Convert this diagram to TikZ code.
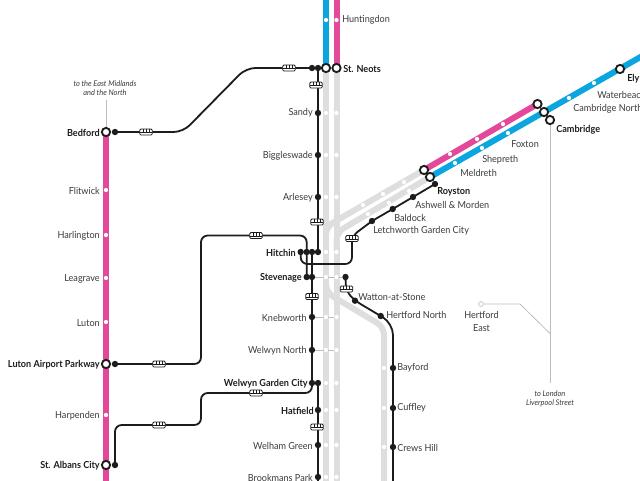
\documentclass[tikz,border=0pt]{standalone}
\usepackage{fontspec}
\setmainfont[FakeStretch=0.94]{Lato}
\usetikzlibrary{calc}
\pgfdeclarelayer{bg}
\pgfsetlayers{bg,main}
\definecolor{trackgrey}{HTML}{DEDEDE}
\definecolor{thingrey}{HTML}{BDBDBD}
\definecolor{railpink}{HTML}{E4489A}
\definecolor{railcyan}{HTML}{0BA6DF}
\definecolor{inkblk}{HTML}{1C1C1C}
\definecolor{txtgrey}{HTML}{3A3A3A}
\tikzset{
  x=0.75pt,y=-0.75pt,
  track/.style={line width=4.5pt,line cap=butt,rounded corners=6pt},
  greytrack/.style={track,color=trackgrey},
  pinktrack/.style={track,color=railpink},
  cyantrack/.style={track,color=railcyan},
  thin line/.style={line width=0.6pt,color=thingrey},
  busline/.style={line width=1.35pt,color=inkblk,rounded corners=5pt},
  blk/.style={circle,fill=inkblk,inner sep=0pt,minimum size=4.8pt},
  wht/.style={circle,fill=white,inner sep=0pt,minimum size=3.2pt},
  ring/.style={circle,draw=inkblk,fill=white,line width=1.4pt,inner sep=0pt,minimum size=6.2pt},
  hring/.style={circle,draw=thingrey,fill=white,line width=0.5pt,inner sep=0pt,minimum size=3.6pt},
  lbl/.style={inner sep=0pt,yshift=-0.5pt,font=\fontsize{7.25pt}{9.6pt}\selectfont,text=txtgrey},
  lblb/.style={lbl,font=\bfseries\fontsize{7.25pt}{8.6pt}\selectfont,text=inkblk},
  note/.style={inner sep=0pt,align=center,font=\itshape\fontsize{5.9pt}{6.9pt}\selectfont,text=txtgrey},
  bus/.style={rectangle,rounded corners=1pt,draw=inkblk,fill=white,line width=0.6pt,inner sep=0pt,
    minimum width=9.5pt,minimum height=4.6pt,
    path picture={\draw[line width=0.35pt,inkblk]
      ($(path picture bounding box.west)+(0,-0.4pt)$)--($(path picture bounding box.east)+(0,-0.4pt)$)
      ($(path picture bounding box.north)+(-2.4pt,0)$)--($(path picture bounding box.center)+(-2.4pt,-0.4pt)$)
      (path picture bounding box.north)--($(path picture bounding box.center)+(0,-0.4pt)$)
      ($(path picture bounding box.north)+(2.4pt,0)$)--($(path picture bounding box.center)+(2.4pt,-0.4pt)$);}},
}
\begin{document}
\begin{tikzpicture}
\useasboundingbox (0,0) rectangle (640,480);
% free ends and bends
\coordinate (tc) at (326,-2);
\coordinate (tp) at (336.5,-2);
\coordinate (gl) at (326,482);
\coordinate (gr) at (336.5,482);
\coordinate (pb) at (106,482);
\coordinate (cend) at (644,55);
\coordinate (b1a) at (326,245);
\coordinate (b1b) at (326,226.6);
\coordinate (b2a) at (336.5,250);
\coordinate (b2b) at (336.5,232.5);
\coordinate (b3a) at (326,282);
\coordinate (b3b) at (326,292.4);
\coordinate (b3c) at (384,327);
\coordinate (b3d) at (384,482);
\coordinate (blk1) at (318,482);
\coordinate (blk2) at (393,482);
% left line
\node[ring] (bedford) at (106,132) {};
\node[ring] (lap) at (106,364) {};
\node[ring] (stalbans) at (106,465) {};
\foreach \n/\y in {flit/190,harl/235,leag/278,lutn/322,harp/415}
  \node[wht] (\n) at (106,\y) {};
% top pair
\node[ring] (neotsa) at (326,68) {};
\node[ring] (neotsb) at (336.5,68) {};
\node[wht] (hunta) at (326,20) {};
\node[wht] (huntb) at (336.5,20) {};
% white dots on the grey pair
\foreach \n/\y in {a/113,b/155,c/197,d/252,e/277,f/317,g/350,h/383,i/410,j/445,k/477}{
  \node[wht] (wl\n) at (326,\y) {};
  \node[wht] (wr\n) at (336.5,\y) {};
}
% diagonal rings and dots
\node[ring] (ra) at (424,170) {};
\node[ring] (rb) at (430,177) {};
\node[ring] (ca) at (537.5,104) {};
\node[ring] (cb) at (544,112) {};
\node[ring] (cambridge) at (550,120) {};
\node[ring] (ely) at (620,69) {};
\foreach \n/\x/\y in {g1/404/182,g2/383/194,g3/363/205,h1/409/191,h2/389/203,h3/368/214,
   p1/503/124,p2/477/139,p3/450/154,c1/508/133,c2/482/148,c3/455/163,c4/569/98,c5/594/83}
  \node[wht] (\n) at (\x,\y) {};
% branch dots
\foreach \n/\y in {bay/368,cuf/408,cre/447}
  \node[wht] (w\n) at (384,\y) {};
% black stations
\foreach \n/\x/\y in {dbed/115/132,dlap/115/364,dsta/115/465,
   n1/312/68,n2/318/68,sandy/318/113,biggs/318/155,arl/318/197,
   hi1/300.7/252,hi2/306.7/252,hi3/312/252,hi4/318/252,
   st1/306.7/277,st2/312/277,kneb/312/317,welN/312/350,wgc1/312/383,wgc2/318/383,
   hatf/318/410,welh/318/445,brook/318/477,
   watt/355/300.7,hn/380.7/316,wx/345.5/277,
   bayf/393/368,cuff/393/408,crew/393/447,
   letch/372/221,bald/392.7/209,ash/413/197,roy/435/184}
  \node[blk] (\n) at (\x,\y) {};
% bus icons
\foreach \n/\x/\y in {bu1/146/132,bu2/289/68,bu3/316/85,bu4/317/222,bu5/256/235.5,bu6/159/364,
   bu7/312/296.5,bu8/256/393,bu9/159/425,bu10/317/427,bu11/352/238.5,bu12/346.5/289}
  \node[bus] (\n) at (\x,\y) {};
\begin{pgfonlayer}{bg}
 \draw[greytrack] (neotsa.center)--(gl);
 \draw[greytrack] (neotsb.center)--(gr);
 \draw[greytrack] (b1a)--(b1b)--(ra.center);
 \draw[greytrack] (b2a)--(b2b)--(rb.center);
 \draw[greytrack] (b3a)--(b3b)--(b3c)--(b3d);
 \draw[cyantrack] (tc)--(neotsa.center);
 \draw[pinktrack] (tp)--(neotsb.center);
 \draw[pinktrack] (bedford.center)--(pb);
 \draw[pinktrack] (ra.center)--(ca.center);
 \draw[cyantrack] (rb.center)--(cend);
 % thin leaders
 \coordinate (eastm) at (106,100);
 \coordinate (lond) at (550,383);
 \coordinate (hbend) at (520,304);
 \coordinate (hjoin) at (550,333.5);
 \node[hring] (hertE) at (481,304) {};
 \draw[thin line] (bedford)--(eastm);
 \draw[thin line] (cambridge)--(lond);
 \draw[thin line] (hertE)--(hbend)--(hjoin);
 \draw[thin line] (st2)--(wx);
 \draw[thin line] (kneb)--(wrf);
 \draw[thin line] (welN)--(wrg);
 % black connectors
 \coordinate (bedA) at (183,132);
 \coordinate (bedB) at (246,68);
 \draw[busline,rounded corners=7pt] (dbed.center)--(bedA)--(bedB)--(n2.center);
 \draw[busline] (n2.center)--(hi4.center);
 \coordinate (lA) at (201,364);
 \coordinate (lB) at (201,235.5);
 \coordinate (lC) at (306.7,235.5);
 \draw[busline] (dlap.center)--(lA)--(lB)--(lC)--(st1.center);
 \draw[busline] (hi3.center)--(wgc1.center);
 \coordinate (sA) at (312,393);
 \coordinate (sB) at (201,393);
 \coordinate (sC) at (201,425);
 \coordinate (sD) at (115,425);
 \draw[busline] (wgc1.center)--(sA)--(sB)--(sC)--(sD)--(dsta.center);
 \draw[busline] (wgc2.center)--(blk1);
 \coordinate (hA) at (300.7,264);
 \coordinate (hB) at (352,264);
 \coordinate (hC) at (352,236);
 \draw[busline] (hi1.center)--(hA)--(hB)--(hC)--(letch.center)--(bald.center)--(ash.center)--(roy.center);
 \coordinate (wA) at (346,291);
 \coordinate (hD) at (393,323);
 \draw[busline] (wx.center)--(wA)--(watt.center)--(hn.center);
 \draw[busline,rounded corners=9pt] (hn.center)--(hD)--(blk2);
\end{pgfonlayer}
% labels
\foreach \n/\x/\y/\t in {lsandy/313/112.5/Sandy,lbigg/313/155/Biggleswade,larl/313/197/Arlesey,
   lkneb/307/317/Knebworth,lweln/307/350/Welwyn North,lwelh/313/445/Welham Green,lbrook/313/477/Brookmans Park,
   lflit/100/190/Flitwick,lharl/100/235/Harlington,lleag/100/278/Leagrave,lluton/100/322/Luton,lharp/100/415/Harpenden}
  \node[lbl,anchor=east] (\n) at (\x,\y) {\t};
\foreach \n/\x/\y/\t in {lhit/296/252/Hitchin,lstev/302/277/Stevenage,lwgc/308/383/Welwyn Garden City,lhatf/314/410/Hatfield,
   lbed/100/132/Bedford,llap/100/364/Luton Airport Parkway,lsta/100/465/St. Albans City}
  \node[lblb,anchor=east] (\n) at (\x,\y) {\t};
\foreach \n/\x/\y/\t in {lhunt/342/19/Huntingdon,lwatt/358/296/Watton-at-Stone,lhn/386/314/Hertford North,
   lbay/397/367.5/Bayford,lcuf/397/407.5/Cuffley,lcre/397/447/Crews Hill,
   llet/373/230/Letchworth Garden City,lbal/394/217/Baldock,lash/415/204/Ashwell \& Morden,
   lmel/460/172/Meldreth,lshe/482/159/Shepreth,lfox/511/143.5/Foxton,lcn/573/108/Cambridge North,lwat/597/94/Waterbeach}
  \node[lbl,anchor=west] (\n) at (\x,\y) {\t};
\foreach \n/\x/\y/\t in {lneots/343/68/St. Neots,lroy/437/191.5/Royston,lcam/556/129/Cambridge,lely/627/78/Ely}
  \node[lblb,anchor=west] (\n) at (\x,\y) {\t};
\node[lbl,align=center] (lhe) at (481.5,320.5) {Hertford\\East};
\node[note] (least) at (105,88.5) {to the East Midlands\\and the North};
\node[note] (llon) at (550,398.5) {to London\\Liverpool Street};
\end{tikzpicture}
\end{document}
